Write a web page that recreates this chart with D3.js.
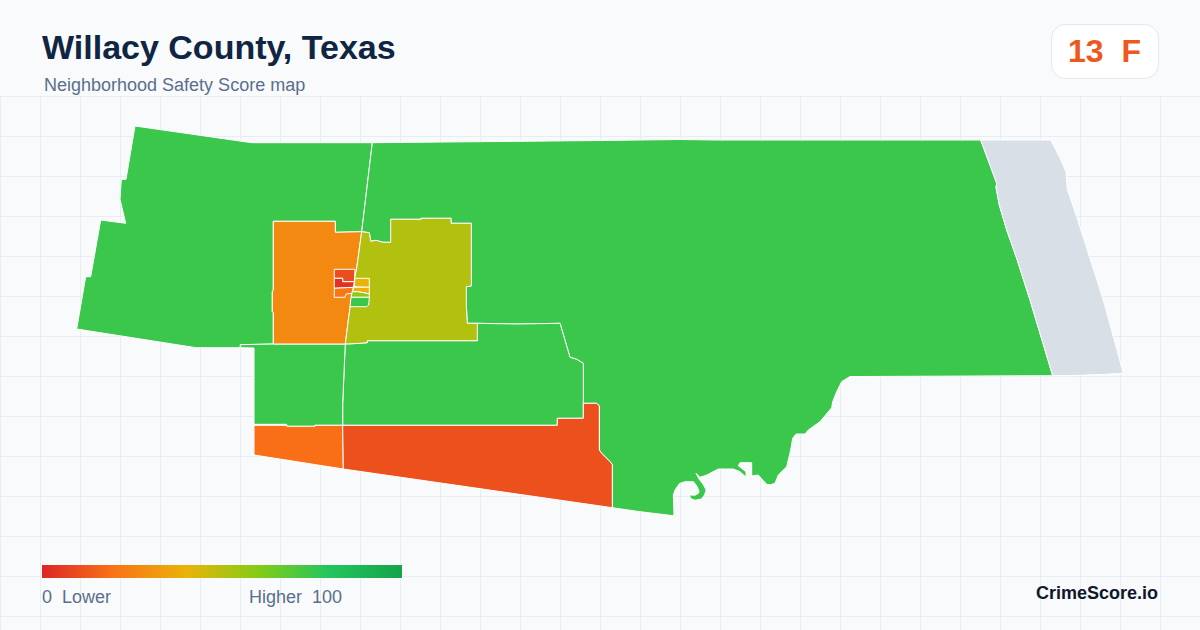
<!DOCTYPE html>
<html>
<head>
<meta charset="utf-8">
<title>Willacy County, Texas</title>
<script src="https://cdn.jsdelivr.net/npm/d3@7"></script>
<style>
  html, body { margin: 0; padding: 0; background: #f8fafc; }
  svg { display: block; }
  text { font-family: "Liberation Sans", Arial, sans-serif; white-space: pre; }
</style>
</head>
<body>
<svg id="chart" width="1200" height="630"></svg>
<script>
// score ramp of the legend
const scoreStops = [0, 20, 40, 60, 80, 100]
const scoreColors = ['#dc2626', '#f97316', '#eab308', '#84cc16', '#22c55e', '#16a34a']

const overallScore = 13
const overallGrade = 'F'

// one score per tract, null = no data. Same order as tractRings
const tractScores = [75, 75, 75, 75, null, 19, 11, 27, 51, 10, 3, 21, 40, 39, 58, 75]

// tract outlines in map units (east, north)
const tractRings = [
  // north west
  [[59,394],[175.7,377.3],[296.3,377.3],[285.7,288.3],[259.3,287.7],[259.3,298.7],[197.3,298.7],[197.3,230],[196.3,228.3],[196.3,208.3],[197.3,207.3],[197.3,176],[164.3,175.3],[164.3,172.3],[120,172.3],[0.7,191],[9.7,243.3],[14.7,243.3],[24.7,300],[49.7,296.7],[44,320.7],[45.3,340.7],[50,340.7]],
  // the big coastal one
  [[296.3,377.3],[524,379.5],[604,380.5],[640,380],[904.7,380],[920.7,336.7],[920,332.7],[923.3,315],[930.7,290],[940.7,261.7],[954,220],[976.7,144.3],[784,143.5],[774,143.5],[765.7,138.3],[760.7,128.3],[756.7,118.3],[755.7,112.3],[744,98.3],[732.3,90],[729,86],[720,86],[716.7,81.7],[714.7,70],[710.7,53.3],[702.3,45],[699,36.7],[694.5,35.2],[690.7,35.7],[686.7,40],[682.3,45],[675.7,44],[675.7,57.3],[664,57.3],[662.3,54.3],[670,48.3],[670,42.7],[664,48.3],[657.3,51],[642.3,51],[630.7,45],[624,42.7],[620,46.7],[623,41],[627,36],[630.2,30],[628.5,25],[625.5,21],[619,19.7],[614.5,21.5],[613.5,25],[619,24.8],[622.5,26.8],[623,29],[620.8,34],[617.5,38.2],[609,38.3],[603.5,36.5],[599,30],[597.3,25],[598,6.7],[597.3,4.3],[564,8.3],[536.3,12.3],[536.3,55.7],[534,58.3],[525.7,66.7],[523.3,70],[523.3,114],[520.7,116.7],[507.3,116.7],[507.3,156.7],[500.7,160.7],[494,162.7],[484,196.7],[440.7,196],[401.3,196.7],[391.3,196.7],[390.3,215],[390.3,233.3],[395.3,234],[395.3,296.7],[375,296.7],[375,301.7],[345,301.7],[345,300.7],[314.7,300.7],[314.7,277.7],[306.7,277.7],[300,279.7],[294.7,278.7],[293.3,287.3],[285.7,288.3]],
  // middle south
  [[269.3,176],[280.7,176.5],[291.3,177.3],[291.3,179.3],[401.3,179.3],[401.3,196.7],[440.7,196],[484,196.7],[494,162.7],[500.7,160.7],[507.3,156.7],[507.3,101.7],[481.3,101.7],[481.3,94.7],[266.7,94.7],[266.7,116.7],[267.7,140],[268.7,163.3]],
  // lower left
  [[164.3,175.3],[197.3,176],[269.3,176],[268.7,163.3],[267.7,140],[266.7,116.7],[266.7,94.7],[239,94.7],[239,93.7],[210.7,93.7],[210.7,95.7],[178,95.7],[178,172],[164.3,172.3]],
  // barrier island, no data
  [[904.7,380],[974.7,380],[984,362],[990,348.3],[991.3,330.7],[1000.7,303.3],[1027.3,220],[1047.3,146.7],[1029,145.7],[994,144.3],[976.7,144.3],[954,220],[940.7,261.7],[930.7,290],[923.3,315],[920,332.7],[920.7,336.7]],
  // southern strip
  [[178,94.7],[210.7,94.7],[210.7,93.7],[239,93.7],[239,94.7],[266.7,94.7],[267.3,51],[178,65]],
  [[266.7,94.7],[481.3,94.7],[481.3,101.7],[507.3,101.7],[507.3,116.7],[520.7,116.7],[523.3,114],[523.3,70],[525.7,66.7],[534,58.3],[536.3,55.7],[536.3,12.3],[267.3,51]],
  // around town
  [[197.3,298.7],[259.3,298.7],[259.3,287.7],[285.7,288.3],[280.7,252],[279,243.3],[276.3,228.3],[274,212],[272.3,200],[269.3,176],[197.3,176],[197.3,207.3],[196.3,208.3],[196.3,228.3],[197.3,230]],
  [[314.7,300.7],[345,300.7],[345,301.7],[375,301.7],[375,296.7],[395.3,296.7],[395.3,234],[390.3,233.3],[390.3,215],[391.3,196.7],[401.3,196.7],[401.3,179.3],[291.3,179.3],[291.3,177.3],[280.7,176.5],[269.3,176],[272.3,200],[274,212],[276.3,228.3],[279,243.3],[280.7,252],[285.7,288.3],[293.3,287.3],[294.7,278.7],[300,279.7],[306.7,277.7],[314.7,277.7]],
  // Raymondville blocks
  [[258.3,250.7],[279,250.7],[278.3,238.3],[266.7,238.3],[266.7,241.7],[258.3,241.7]],
  [[258.3,241.7],[266.7,241.7],[266.7,238.3],[278.3,238.3],[277.3,232.7],[258.3,231.7]],
  [[258.3,231.7],[277.3,232.7],[276,226.7],[270,226],[269,222.7],[258.3,222.7]],
  [[279,241.7],[293.3,241.7],[293.3,232.7],[278.3,233.3]],
  [[278,232.7],[293.3,232.7],[293.3,226],[289,227],[281.3,228.3],[276.3,228.3]],
  [[276.3,228.3],[281.3,228.3],[289,227],[293.3,226],[293.3,222.7],[275,222.7]],
  [[275,222.7],[293.3,222.7],[292.7,215],[290.7,213.3],[274,213.3]],
]

const width = 1200
const height = 630
const gridStep = 40
const gridTop = 96.5

const svg = d3.select('#chart')

svg.append('rect')
  .attr('width', width)
  .attr('height', height)
  .attr('fill', '#f8fafc')

const color = d3.scaleLinear().domain(scoreStops).range(scoreColors)

// background grid
const grid = svg.append('g').attr('stroke', '#e7eef3').attr('stroke-width', 1)
grid.selectAll('line.v')
  .data(d3.range(0.5, width, gridStep))
  .join('line')
  .attr('class', 'v')
  .attr('x1', d => d).attr('x2', d => d)
  .attr('y1', gridTop).attr('y2', height)
grid.selectAll('line.h')
  .data(d3.range(gridTop, height, gridStep))
  .join('line')
  .attr('class', 'h')
  .attr('x1', 0).attr('x2', width)
  .attr('y1', d => d).attr('y2', d => d)

// map
const features = tractRings.map((ring, i) => ({
  type: 'Feature',
  properties: {score: tractScores[i]},
  geometry: {type: 'Polygon', coordinates: [ring.concat([ring[0]])]},
}))

const projection = d3.geoIdentity().reflectY(true).translate([76, 520])
const path = d3.geoPath(projection)

svg.append('g').selectAll('path')
  .data(features)
  .join('path')
  .attr('d', path)
  .attr('fill', d => d.properties.score === null ? '#d9dfe7' : color(d.properties.score))
  .attr('stroke', '#fff')
  .attr('stroke-width', 1)
  .attr('stroke-linejoin', 'round')

// header
svg.append('text')
  .attr('x', 42).attr('y', 59)
  .attr('font-size', 34).attr('font-weight', 700)
  .attr('fill', '#0f2542')
  .text('Willacy County, Texas')

svg.append('text')
  .attr('x', 44).attr('y', 91)
  .attr('font-size', 18)
  .attr('fill', '#5a6f8c')
  .text('Neighborhood Safety Score map')

// score badge
svg.append('rect')
  .attr('x', 1051.5).attr('y', 24.5)
  .attr('width', 107).attr('height', 54)
  .attr('rx', 14)
  .attr('fill', '#fff')
  .attr('stroke', '#e2e8f0')

svg.append('text')
  .attr('x', 1104.5).attr('y', 62)
  .attr('text-anchor', 'middle')
  .attr('font-size', 32).attr('font-weight', 700)
  .attr('fill', color(overallScore))
  .text(`${overallScore}  ${overallGrade}`)

// legend
const legendX = d3.scaleLinear().domain([0, 100]).range([42, 402])

const gradient = svg.append('defs').append('linearGradient').attr('id', 'ramp')
gradient.selectAll('stop')
  .data(scoreStops)
  .join('stop')
  .attr('offset', d => `${d}%`)
  .attr('stop-color', d => color(d))

svg.append('rect')
  .attr('x', legendX(0)).attr('y', 565)
  .attr('width', legendX(100) - legendX(0)).attr('height', 13)
  .attr('fill', 'url(#ramp)')

svg.append('text')
  .attr('x', legendX(0)).attr('y', 603)
  .attr('font-size', 18)
  .attr('fill', '#5a6f8c')
  .text('0  Lower')

svg.append('text')
  .attr('x', 342).attr('y', 603)
  .attr('text-anchor', 'end')
  .attr('font-size', 18)
  .attr('fill', '#5a6f8c')
  .text('Higher  100')

svg.append('text')
  .attr('x', 1158).attr('y', 599)
  .attr('text-anchor', 'end')
  .attr('font-size', 18).attr('font-weight', 700)
  .attr('fill', '#0f172a')
  .text('CrimeScore.io')
</script>
</body>
</html>
